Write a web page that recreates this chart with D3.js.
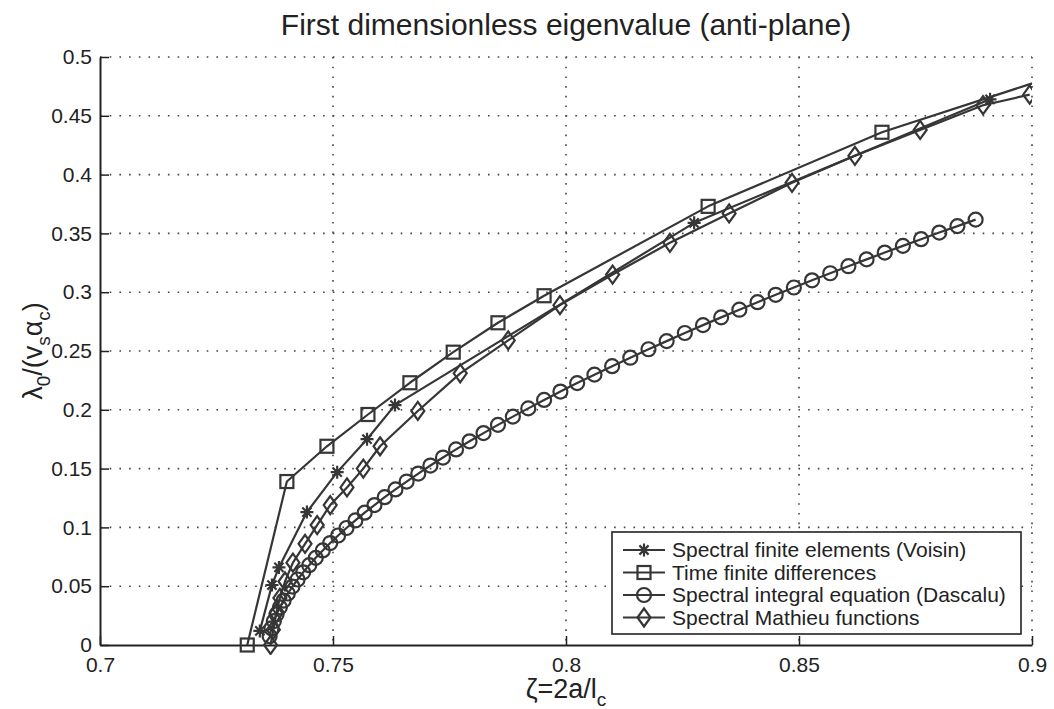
<!DOCTYPE html>
<html>
<head>
<meta charset="utf-8">
<script src="https://cdn.jsdelivr.net/npm/d3@7"></script>
<style>
body { margin: 0; background: #fff; }
svg { font-family: "Liberation Sans", Arial, Helvetica, sans-serif; }
</style>
</head>
<body>
<svg id="chart"></svg>
<script>
// ticks
const xTicks = [0.7, 0.75, 0.8, 0.85, 0.9]
const xTickLabels = ["0.7", "0.75", "0.8", "0.85", "0.9"]
const yTicks = [0, 0.05, 0.1, 0.15, 0.2, 0.25, 0.3, 0.35, 0.4, 0.45, 0.5]
const yTickLabels = ["0", "0.05", "0.1", "0.15", "0.2", "0.25", "0.3", "0.35", "0.4", "0.45", "0.5"]

// Spectral finite elements (Voisin)
const feX = [0.7343, 0.7369, 0.7384, 0.7444, 0.7509, 0.7573, 0.7633, 0.8275, 0.8910]
const feY = [0.012, 0.051, 0.066, 0.113, 0.147, 0.175, 0.204, 0.359, 0.464]

// Time finite differences
const fdX = [0.7316, 0.7401, 0.7487, 0.7575, 0.7665, 0.7758, 0.7854, 0.7953, 0.8305, 0.8678, 0.9035]
const fdY = [0.000, 0.139, 0.169, 0.196, 0.223, 0.249, 0.274, 0.297, 0.373, 0.436, 0.482]

// Spectral integral equation (Dascalu)
const ieX = [0.7364, 0.7368, 0.7373, 0.7379, 0.7386, 0.7394, 0.7403, 0.7413, 0.7424, 0.7436,
             0.7449, 0.7463, 0.7478, 0.7494, 0.7511, 0.7529, 0.7548, 0.7568, 0.7589, 0.7611,
             0.7634, 0.7658, 0.7683, 0.7709, 0.7736, 0.7764, 0.7793, 0.7823, 0.7854, 0.7886,
             0.7919, 0.7953, 0.7988, 0.8024, 0.8061, 0.8099, 0.8138, 0.8177, 0.8216, 0.8255,
             0.8294, 0.8333, 0.8372, 0.8411, 0.8450, 0.8489, 0.8528, 0.8567, 0.8606, 0.8645,
             0.8684, 0.8723, 0.8762, 0.8801, 0.8840, 0.8879]
const ieY = [0.0075, 0.0142, 0.0203, 0.0261, 0.0320, 0.0378, 0.0438, 0.0497, 0.0557, 0.0618,
             0.0679, 0.0741, 0.0804, 0.0867, 0.0931, 0.0995, 0.1059, 0.1125, 0.1190, 0.1257,
             0.1323, 0.1390, 0.1458, 0.1526, 0.1594, 0.1663, 0.1732, 0.1802, 0.1872, 0.1942,
             0.2012, 0.2084, 0.2155, 0.2227, 0.2299, 0.2371, 0.2443, 0.2515, 0.2584, 0.2653,
             0.2720, 0.2786, 0.2851, 0.2915, 0.2978, 0.3040, 0.3101, 0.3161, 0.3221, 0.3279,
             0.3337, 0.3394, 0.3451, 0.3507, 0.3562, 0.3617]

// Spectral Mathieu functions
const mfX = [0.7366, 0.7372, 0.7378, 0.7386, 0.7397, 0.7414, 0.7440, 0.7466, 0.7494, 0.7530,
             0.7565, 0.7601, 0.7682, 0.7773, 0.7876, 0.7987, 0.8100, 0.8223, 0.8350, 0.8485,
             0.8620, 0.8760, 0.8895, 0.8995]
const mfY = [0.000, 0.013, 0.027, 0.040, 0.054, 0.070, 0.086, 0.102, 0.119, 0.134,
             0.150, 0.169, 0.199, 0.231, 0.259, 0.289, 0.315, 0.342, 0.367, 0.393,
             0.416, 0.438, 0.459, 0.468]

const seriesNames = ["Spectral finite elements (Voisin)", "Time finite differences",
                     "Spectral integral equation (Dascalu)", "Spectral Mathieu functions"]
const seriesMarkers = ["star", "square", "circle", "diamond"]

const series = [
    {name: seriesNames[0], marker: seriesMarkers[0], pts: feX.map((v, i) => ({x: v, y: feY[i]}))},
    {name: seriesNames[1], marker: seriesMarkers[1], pts: fdX.map((v, i) => ({x: v, y: fdY[i]}))},
    {name: seriesNames[2], marker: seriesMarkers[2], pts: ieX.map((v, i) => ({x: v, y: ieY[i]}))},
    {name: seriesNames[3], marker: seriesMarkers[3], pts: mfX.map((v, i) => ({x: v, y: mfY[i]}))}
]

const ink = "#363636"

// dimensions
var margin = {top: 57, right: 22, bottom: 64, left: 100},
    width = 1054 - margin.left - margin.right,
    height = 709 - margin.top - margin.bottom

const svg = d3.select("#chart")
    .attr("width", 1054)
    .attr("height", 709)

const chart = svg.append("g")
    .attr("transform", "translate(" + margin.left + "," + margin.top + ")")

const x = d3.scaleLinear().domain([0.7, 0.9]).range([0, width])
const y = d3.scaleLinear().domain([0, 0.5]).range([height, 0])

// grid (dotted)
chart.append("g")
    .selectAll("line")
    .data(xTicks.slice(1))
    .enter().append("line")
    .attr("x1", d => x(d)).attr("x2", d => x(d))
    .attr("y1", 0).attr("y2", height)
    .attr("stroke", "#444").attr("stroke-width", 1.6)
    .attr("stroke-dasharray", "1.6,8.1")

chart.append("g")
    .selectAll("line")
    .data(yTicks.slice(1))
    .enter().append("line")
    .attr("x1", 0).attr("x2", width)
    .attr("y1", d => y(d)).attr("y2", d => y(d))
    .attr("stroke", "#444").attr("stroke-width", 1.6)
    .attr("stroke-dasharray", "1.6,8.1")

// axes
chart.append("g")
    .call(d3.axisLeft(y)
        .tickValues(yTicks)
        .tickSize(-9)
        .tickSizeOuter(0)
        .tickPadding(8)
        .tickFormat((d, i) => yTickLabels[i]))

chart.append("g")
    .attr("transform", `translate(0, ${height})`)
    .call(d3.axisBottom(x)
        .tickValues(xTicks)
        .tickSize(-9)
        .tickSizeOuter(0)
        .tickPadding(12)
        .tickFormat((d, i) => xTickLabels[i]))

chart.selectAll(".domain").attr("stroke", "#222").attr("stroke-width", 2)
chart.selectAll(".tick line").attr("stroke", "#222").attr("stroke-width", 1.5)
chart.selectAll(".tick text")
    .attr("fill", "#222")
    .style("font-size", "21px")
    .style("font-family", "'Liberation Sans', Arial, sans-serif")

// markers
function drawMarker(g, type, cx, cy) {
    if (type == "circle") {
        g.append("circle").attr("cx", cx).attr("cy", cy).attr("r", 7)
            .attr("fill", "none").attr("stroke", ink).attr("stroke-width", 2.2)
    } else if (type == "square") {
        g.append("rect").attr("x", cx - 6.5).attr("y", cy - 6.5)
            .attr("width", 13).attr("height", 13)
            .attr("fill", "none").attr("stroke", ink).attr("stroke-width", 2.2)
    } else if (type == "diamond") {
        g.append("path")
            .attr("d", `M${cx},${cy - 9}L${cx + 6.5},${cy}L${cx},${cy + 9}L${cx - 6.5},${cy}Z`)
            .attr("fill", "none").attr("stroke", ink).attr("stroke-width", 2.2)
    } else {
        g.append("path")
            .attr("d", `M${cx - 6.5},${cy}H${cx + 6.5}M${cx},${cy - 6.5}V${cy + 6.5}` +
                `M${cx - 4.6},${cy - 4.6}L${cx + 4.6},${cy + 4.6}M${cx - 4.6},${cy + 4.6}L${cx + 4.6},${cy - 4.6}`)
            .attr("fill", "none").attr("stroke", ink).attr("stroke-width", 2.2)
    }
}

// clip to plot area
chart.append("defs").append("clipPath").attr("id", "plotclip")
    .append("rect").attr("x", -10).attr("y", -10).attr("width", width + 10).attr("height", height + 20)

const plot = chart.append("g").attr("clip-path", "url(#plotclip)")

const line = d3.line().x(d => x(d.x)).y(d => y(d.y))

series.forEach(s => {
    plot.append("path")
        .datum(s.pts)
        .attr("fill", "none")
        .attr("stroke", ink)
        .attr("stroke-width", 2.2)
        .attr("stroke-linejoin", "round")
        .attr("d", line)
    const mg = plot.append("g")
    s.pts.forEach(p => drawMarker(mg, s.marker, x(p.x), y(p.y)))
})

// legend
const legend = chart.append("g").attr("transform", "translate(512, 475)")
legend.append("rect")
    .attr("width", 409).attr("height", 102)
    .attr("fill", "#fff").attr("stroke", "#222").attr("stroke-width", 1.6)

series.forEach((s, i) => {
    const ly = 18 + i * 22.5
    legend.append("line")
        .attr("x1", 11).attr("x2", 53).attr("y1", ly).attr("y2", ly)
        .attr("stroke", ink).attr("stroke-width", 2.2)
    drawMarker(legend, s.marker, 32, ly)
    legend.append("text")
        .attr("x", 60).attr("y", ly).attr("dy", "0.35em")
        .attr("fill", "#222")
        .style("font-size", "21px")
        .text(s.name)
})

// title
svg.append("text")
    .attr("x", margin.left + width / 2).attr("y", 35)
    .attr("text-anchor", "middle")
    .attr("fill", "#222")
    .style("font-size", "30px")
    .text("First dimensionless eigenvalue (anti-plane)")

// x label
const xl = svg.append("text")
    .attr("x", margin.left + width / 2).attr("y", 698)
    .attr("text-anchor", "middle")
    .attr("fill", "#222")
    .style("font-size", "27px")
xl.append("tspan").text("ζ=2a/l")
xl.append("tspan").attr("dy", 8).style("font-size", "19px").text("c")

// y label
const yl = svg.append("text")
    .attr("transform", `translate(42, ${margin.top + height / 2}) rotate(-90)`)
    .attr("text-anchor", "middle")
    .attr("fill", "#222")
    .style("font-size", "27px")
yl.append("tspan").text("λ")
yl.append("tspan").attr("dy", 8).style("font-size", "19px").text("0")
yl.append("tspan").attr("dy", -8).text("/(v")
yl.append("tspan").attr("dy", 8).style("font-size", "19px").text("s")
yl.append("tspan").attr("dy", -8).text("α")
yl.append("tspan").attr("dy", 8).style("font-size", "19px").text("c")
yl.append("tspan").attr("dy", -8).text(")")
</script>
</body>
</html>
